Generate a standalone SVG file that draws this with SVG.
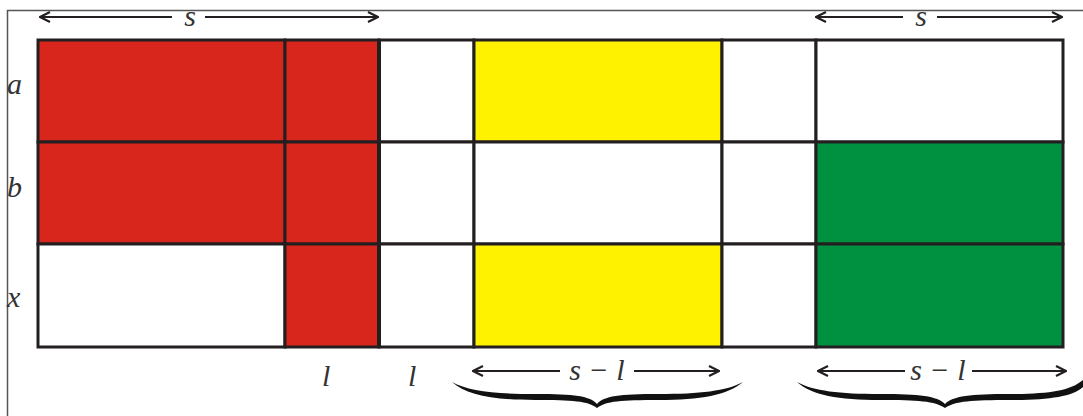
<svg xmlns="http://www.w3.org/2000/svg" width="1083" height="416" viewBox="0 0 1083 416">
<style>
.cell{stroke:#231f20;stroke-width:3}
.red{fill:#d9261c}.yel{fill:#fff200}.grn{fill:#009140}.wht{fill:#fff}
.lbl{font-family:"Liberation Serif","DejaVu Serif",serif;font-style:italic;font-size:30px;fill:#333}
.dim{stroke:#231f20;stroke-width:2;fill:none}
.brace{fill:#111}
</style>
<defs>
<marker id="ah" viewBox="0 0 12 12" refX="11" refY="6" markerWidth="12" markerHeight="12" markerUnits="userSpaceOnUse" orient="auto-start-reverse">
<path d="M1,1 L11,6 L1,11" fill="none" stroke="#231f20" stroke-width="2.2"/>
</marker>
</defs>
<rect width="1083" height="416" fill="#fff"/>
<path d="M7.5,416 V10.5 H1083" fill="none" stroke="#555" stroke-width="1.5"/>
<g id="grid">
<rect class="cell red" x="38" y="40" width="247" height="102"/>
<rect class="cell red" x="285" y="40" width="94" height="102"/>
<rect class="cell wht" x="379" y="40" width="95" height="102"/>
<rect class="cell yel" x="474" y="40" width="248" height="102"/>
<rect class="cell wht" x="722" y="40" width="94" height="102"/>
<rect class="cell wht" x="816" y="40" width="247" height="102"/>
<rect class="cell red" x="38" y="142" width="247" height="102"/>
<rect class="cell red" x="285" y="142" width="94" height="102"/>
<rect class="cell wht" x="379" y="142" width="95" height="102"/>
<rect class="cell wht" x="474" y="142" width="248" height="102"/>
<rect class="cell wht" x="722" y="142" width="94" height="102"/>
<rect class="cell grn" x="816" y="142" width="247" height="102"/>
<rect class="cell wht" x="38" y="244" width="247" height="103"/>
<rect class="cell red" x="285" y="244" width="94" height="103"/>
<rect class="cell wht" x="379" y="244" width="95" height="103"/>
<rect class="cell yel" x="474" y="244" width="248" height="103"/>
<rect class="cell wht" x="722" y="244" width="94" height="103"/>
<rect class="cell grn" x="816" y="244" width="247" height="103"/>
<line x1="379" y1="40" x2="379" y2="347" stroke="#231f20" stroke-width="4"/>
</g>
<g id="labels">
<text class="lbl" x="7" y="94">a</text>
<text class="lbl" x="7" y="197">b</text>
<text class="lbl" x="7" y="307">x</text>
<text class="lbl" x="322" y="386">l</text>
<text class="lbl" x="408" y="386">l</text>
</g>
<g id="connectors">
<line class="dim" x1="172" y1="17" x2="40" y2="17" marker-end="url(#ah)"/>
<line class="dim" x1="205" y1="17" x2="378" y2="17" marker-end="url(#ah)"/>
<text class="lbl" x="190" y="26" text-anchor="middle">s</text>
<line class="dim" x1="903" y1="17" x2="816" y2="17" marker-end="url(#ah)"/>
<line class="dim" x1="937" y1="17" x2="1062" y2="17" marker-end="url(#ah)"/>
<text class="lbl" x="921" y="26" text-anchor="middle">s</text>
<line class="dim" x1="560" y1="371" x2="473" y2="371" marker-end="url(#ah)"/>
<line class="dim" x1="634" y1="371" x2="719" y2="371" marker-end="url(#ah)"/>
<text class="lbl" x="597" y="380" text-anchor="middle">s − l</text>
<line class="dim" x1="905" y1="371" x2="818" y2="371" marker-end="url(#ah)"/>
<line class="dim" x1="972" y1="371" x2="1066" y2="371" marker-end="url(#ah)"/>
<text class="lbl" x="938" y="380" text-anchor="middle">s − l</text>
<path class="brace" d="M452,382 C468,391 495,394 535,394 C575,394 590,396 597,404 C604,396 619,394 659,394 C699,394 727,391 743,382 C728,395 700,400 659,400 C621,400 606,401 597,408 C588,401 573,400 535,400 C494,400 466,395 452,382 Z"/>
<path class="brace" d="M797,382 C813,391 840,394 880,394 C920,394 937,396 945,404 C953,396 970,394 1010,394 C1048,394 1070,391 1083,380 L1083,387 C1072,397 1048,400 1010,400 C972,400 955,401 945,408 C935,401 918,400 880,400 C839,400 811,395 797,382 Z"/>
</g>
</svg>
